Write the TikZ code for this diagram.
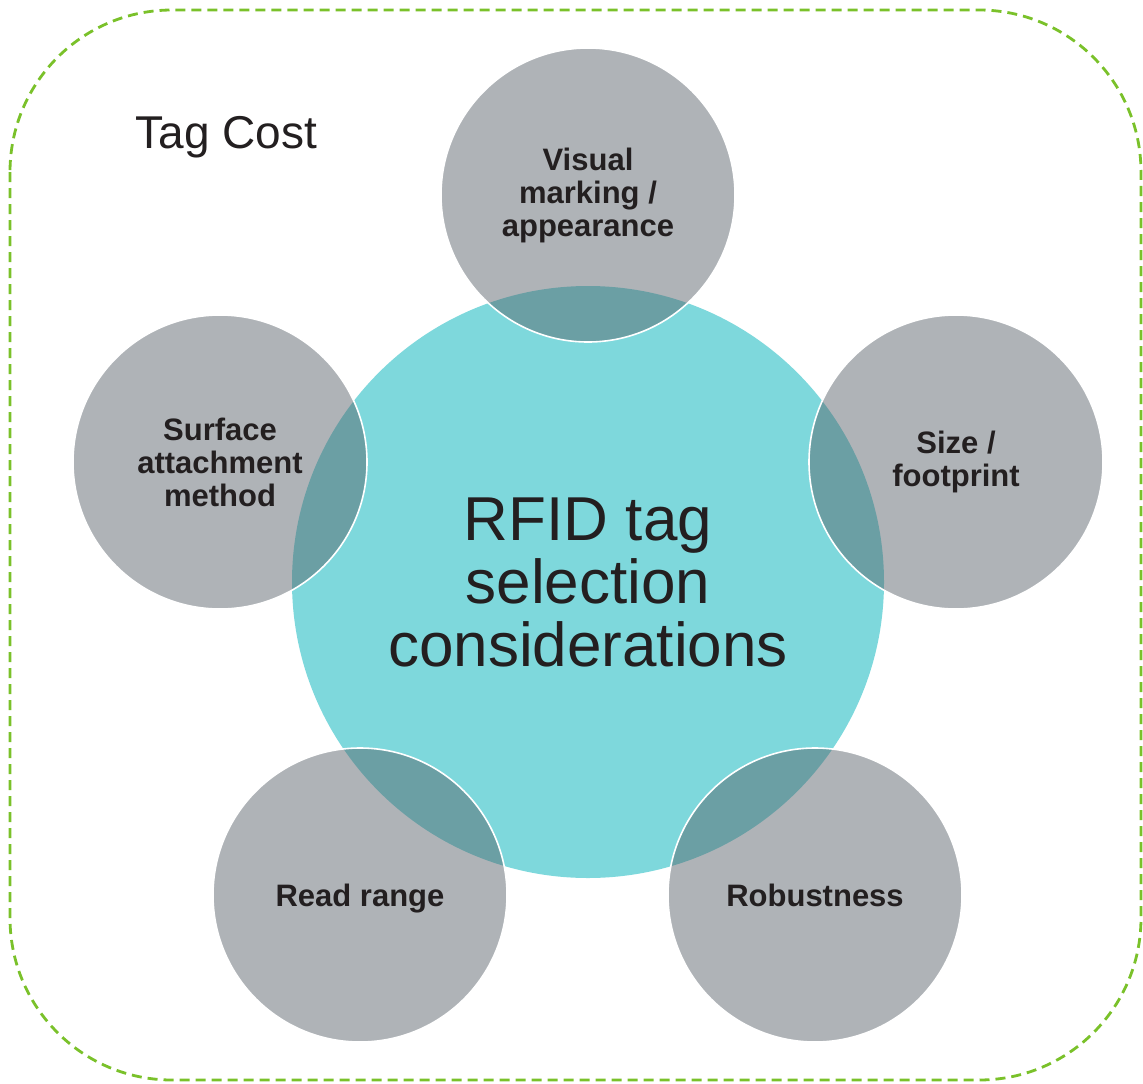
\documentclass[tikz,border=0pt]{standalone}
\usepackage{fontspec}
\setmainfont{Liberation Sans}
\definecolor{tealc}{HTML}{7ED8DC}
\definecolor{grayc}{RGB}{88,97,105}
\definecolor{dashg}{HTML}{7AC12A}
\definecolor{txt}{HTML}{231F20}
\begin{document}
\begin{tikzpicture}[x=1pt,y=-1pt,
  hub/.style={circle,fill=tealc,minimum size=592pt,inner sep=0pt,align=center,
    text=txt,font=\fontsize{62}{63}\selectfont},
  spoke/.style={circle,fill=grayc,fill opacity=0.48,text opacity=1,draw=white,
    line width=1.6pt,minimum size=294pt,inner sep=0pt,align=center,text=txt,
    font=\fontsize{31}{33}\selectfont\bfseries}]
\useasboundingbox (0,0) rectangle (1143,1084);
\draw[dashg,dashed,dash pattern=on 10pt off 6pt,line width=2.8pt,rounded corners=162pt]
  (10,10) rectangle (1141,1080);
\node[anchor=base west,text=txt,font=\fontsize{46}{50}\selectfont] (cost) at (132,148) {Tag Cost};
\node[hub] (hub) at (588,582) {RFID tag\\selection\\considerations};
\node[spoke] (vis) at (588,195) {Visual\\marking /\\appearance};
\node[spoke] (size) at (956,462) {Size /\\footprint};
\node[spoke] (surf) at (220,462) {Surface\\attachment\\method};
\node[spoke,text depth=0pt] (read) at (360,895) {Read range};
\node[spoke] (rob) at (815,895) {Robustness};
\end{tikzpicture}
\end{document}
